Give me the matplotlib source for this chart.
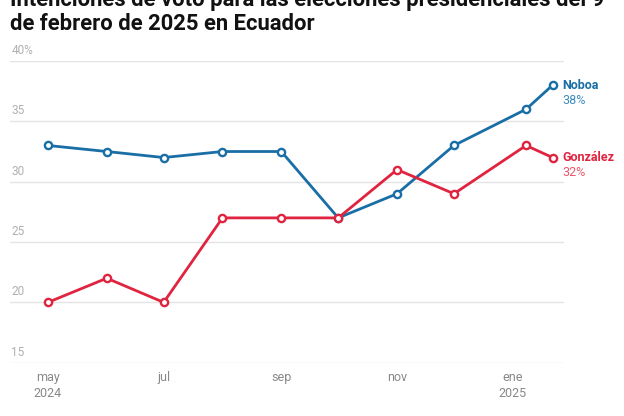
import numpy as np
import matplotlib.pyplot as plt
import matplotlib.dates as mdates
import datetime as dt

plt.rcParams['font.family'] = ['Roboto', 'DejaVu Sans']

# survey dates and voting intention (%)
fechas = [dt.date(2024, 5, 1), dt.date(2024, 6, 1), dt.date(2024, 7, 1),
          dt.date(2024, 8, 1), dt.date(2024, 9, 1), dt.date(2024, 10, 1),
          dt.date(2024, 11, 1), dt.date(2024, 12, 1), dt.date(2025, 1, 8),
          dt.date(2025, 1, 22)]
noboa = [33, 32.5, 32, 32.5, 32.5, 27, 29, 33, 36, 38]
gonzalez = [20, 22, 20, 27, 27, 27, 31, 29, 33, 32]

yticks = [15, 20, 25, 30, 35, 40]
ytick_labels = ['15', '20', '25', '30', '35', '40%']
xtick_fechas = [dt.date(2024, 5, 1), dt.date(2024, 7, 1), dt.date(2024, 9, 1),
                dt.date(2024, 11, 1), dt.date(2025, 1, 1)]
xtick_labels = ['may\n2024', 'jul', 'sep', 'nov', 'ene\n2025']

azul = '#1a6ea6'
rojo = '#e0243f'

W, H = 624, 416
fig = plt.figure(figsize=(W / 100, H / 100), dpi=100)
ax = fig.add_axes([10 / W, 1 - 362.7 / H, (564 - 10) / W, (362.7 - 61) / H])

x = mdates.date2num(fechas)
ax.plot(x, noboa, color=azul, lw=2, marker='o', ms=5.2, mfc='white',
        mec=azul, mew=1.7, zorder=3)
ax.plot(x, gonzalez, color=rojo, lw=2, marker='o', ms=5.2, mfc='white',
        mec=rojo, mew=1.7, zorder=3)

ax.set_ylim(15, 40)
ax.set_xlim(mdates.date2num(dt.date(2024, 4, 11)), mdates.date2num(dt.date(2025, 1, 28)))
for s in ax.spines.values():
    s.set_visible(False)
ax.set_yticks(yticks)
ax.set_yticklabels([])
ax.tick_params(axis='y', length=0)
ax.grid(axis='y', color='#e4e4e4', lw=1)
ax.set_axisbelow(True)

for v, lab in zip(yticks, ytick_labels):
    ax.annotate(lab, (0, v), xycoords=ax.get_yaxis_transform(),
                xytext=(1, 3), textcoords='offset points',
                ha='left', va='bottom', fontsize=8.5, color='#b0b0b0')

ax.set_xticks(mdates.date2num(xtick_fechas))
ax.set_xticklabels(xtick_labels, fontsize=9, color='#888888', linespacing=1.25)
ax.tick_params(axis='x', length=0, pad=6)

# end labels
ax.annotate('Noboa', (x[-1], noboa[-1]), xytext=(7, 0), textcoords='offset points',
            ha='left', va='center', fontsize=9, fontweight='bold', color=azul)
ax.annotate('38%', (x[-1], noboa[-1]), xytext=(7, -11), textcoords='offset points',
            ha='left', va='center', fontsize=9, color='#3d8cc0')
ax.annotate('González', (x[-1], gonzalez[-1]), xytext=(7, 0), textcoords='offset points',
            ha='left', va='center', fontsize=9, fontweight='bold', color=rojo)
ax.annotate('32%', (x[-1], gonzalez[-1]), xytext=(7, -11), textcoords='offset points',
            ha='left', va='center', fontsize=9, color='#e8566a')

fig.text(10 / W, 1 - 30 / H,
         'Intenciones de voto para las elecciones presidenciales del 9\nde febrero de 2025 en Ecuador',
         ha='left', va='baseline', fontsize=15.8, fontweight='bold', color='#111111',
         linespacing=1.12)

fig.savefig('out.png', dpi=100)
